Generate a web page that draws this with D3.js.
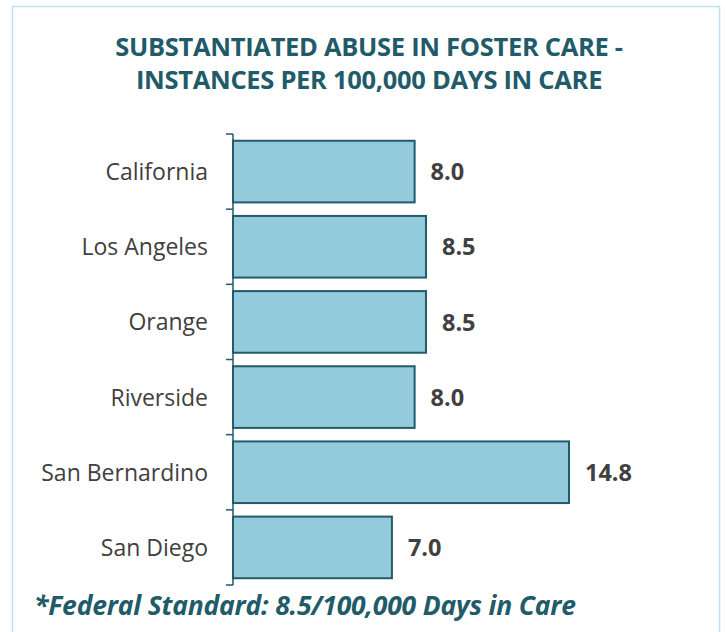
<!DOCTYPE html>
<html>
<head>
<meta charset="utf-8">
<script src="https://cdn.jsdelivr.net/npm/d3@7"></script>
<style>
  html, body { margin: 0; padding: 0; background: #ffffff; }
  svg { display: block; }
</style>
</head>
<body>
<svg id="chart" width="726" height="632"></svg>
<script>
// Substantiated abuse in foster care, instances per 100,000 days in care
const counties = ["California", "Los Angeles", "Orange", "Riverside", "San Bernardino", "San Diego"];
const rates = [8.0, 8.5, 8.5, 8.0, 14.8, 7.0];
const titleLines = ["SUBSTANTIATED ABUSE IN FOSTER CARE -", "INSTANCES PER 100,000 DAYS IN CARE"];
const footnote = "*Federal Standard: 8.5/100,000 Days in Care";

const svg = d3.select("#chart");
const font = "'Open Sans', Lato, 'DejaVu Sans', sans-serif";
const teal = "#215a68";
const textGrey = "#404040";

// panel frame
svg.append("rect")
  .attr("x", 12.5).attr("y", 6.5)
  .attr("width", 707).attr("height", 640)
  .attr("fill", "#ffffff")
  .attr("stroke", "#bfe3ee").attr("stroke-width", 1.5);

// title
svg.append("g").selectAll("text")
  .data(titleLines)
  .join("text")
  .attr("x", 369)
  .attr("y", (d, i) => 56 + i * 33)
  .attr("text-anchor", "middle")
  .attr("font-family", font)
  .attr("font-weight", 700)
  .attr("font-size", 25.5)
  .attr("letter-spacing", -0.3)
  .attr("fill", teal)
  .text(d => d);

const margin = { left: 233, top: 134, bottom: 585 };
const x = d3.scaleLinear().domain([0, 14.8]).range([margin.left, 569]);
const y = d3.scaleBand().domain(counties).range([margin.top, margin.bottom]).paddingInner(0.18).paddingOuter(0.09);

// category axis with boundary ticks between bars
const boundaries = d3.range(counties.length + 1).map(i => margin.top + i * (margin.bottom - margin.top) / counties.length);
const axis = svg.append("g");
axis.append("line")
  .attr("x1", margin.left).attr("x2", margin.left)
  .attr("y1", margin.top).attr("y2", margin.bottom)
  .attr("stroke", teal).attr("stroke-width", 1.5);
axis.selectAll("line.tick")
  .data(boundaries)
  .join("line")
  .attr("class", "tick")
  .attr("x1", margin.left - 7).attr("x2", margin.left)
  .attr("y1", d => d).attr("y2", d => d)
  .attr("stroke", teal).attr("stroke-width", 1.5);

axis.selectAll("text")
  .data(counties)
  .join("text")
  .attr("x", 208)
  .attr("y", d => y(d) + y.bandwidth() / 2)
  .attr("dy", "0.37em")
  .attr("text-anchor", "end")
  .attr("font-family", font)
  .attr("font-size", 23)
  .attr("fill", textGrey)
  .text(d => d);

// bars
svg.append("g").selectAll("rect")
  .data(counties)
  .join("rect")
  .attr("x", x(0))
  .attr("y", d => y(d))
  .attr("width", (d, i) => x(rates[i]) - x(0))
  .attr("height", y.bandwidth())
  .attr("fill", "#93cbdc")
  .attr("stroke", teal)
  .attr("stroke-width", 2);

// value labels
svg.append("g").selectAll("text")
  .data(counties)
  .join("text")
  .attr("x", (d, i) => x(rates[i]) + 16)
  .attr("y", d => y(d) + y.bandwidth() / 2)
  .attr("dy", "0.37em")
  .attr("font-family", font)
  .attr("font-weight", 700)
  .attr("font-size", 23.5)
  .attr("fill", textGrey)
  .text((d, i) => d3.format(".1f")(rates[i]));

// footnote
svg.append("text")
  .attr("x", 34)
  .attr("y", 615)
  .attr("font-family", font)
  .attr("font-weight", 700)
  .attr("font-style", "italic")
  .attr("font-size", 26.5)
  .attr("letter-spacing", -0.2)
  .attr("fill", teal)
  .text(footnote);
</script>
</body>
</html>
